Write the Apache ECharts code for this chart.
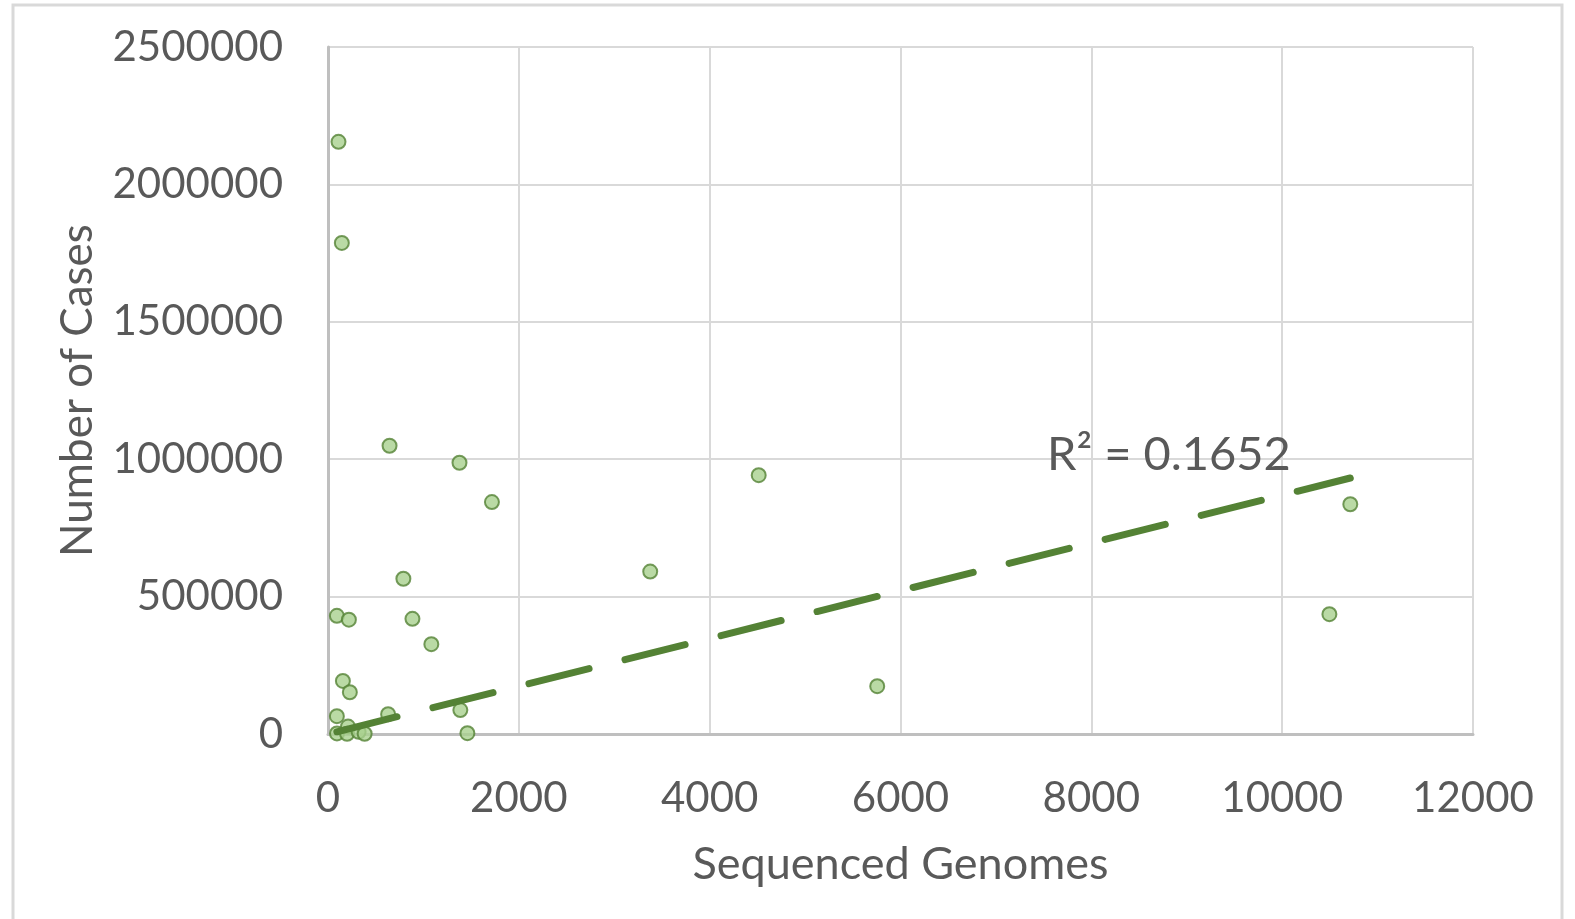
<!DOCTYPE html>
<html>
<head>
<meta charset="utf-8">
<title>Cases vs Sequenced Genomes</title>
<script src="https://cdn.jsdelivr.net/npm/echarts@6/dist/echarts.min.js"></script>
<style>
  html, body { margin: 0; padding: 0; background: #ffffff; }
  #chart { width: 1575px; height: 919px; }
</style>
</head>
<body>
<div id="chart"></div>
<script>
// Sequenced genomes per country (x) and number of confirmed cases (y)
const sequencedGenomes = [
  110, 145, 645, 1378, 1718, 4514, 3377, 790, 885, 1083,
  93, 219, 156, 229, 93, 630, 1387, 1461, 5756, 10714,
  10495, 94, 210, 200, 321, 384
];
const numberOfCases = [
  2155000, 1787000, 1049000, 987000, 844000, 942000, 591000, 565000, 419000, 327000,
  430000, 416000, 193000, 152000, 65000, 72000, 87000, 3000, 174000, 836000,
  436000, 2000, 27000, 1000, 8000, 1000
];
const xTicks = [0, 2000, 4000, 6000, 8000, 10000, 12000];
const yTicks = [0, 500000, 1000000, 1500000, 2000000, 2500000];
const rSquaredLabel = 'R\u00B2 = 0.1652';

// Linear trend through the origin (least squares, intercept fixed at 0)
let sxy = 0, sxx = 0;
for (let i = 0; i < sequencedGenomes.length; i++) {
  sxy += sequencedGenomes[i] * numberOfCases[i];
  sxx += sequencedGenomes[i] * sequencedGenomes[i];
}
const slope = sxy / sxx;
const xMin = Math.min(...sequencedGenomes);
const xMax = Math.max(...sequencedGenomes);
const trendData = [[xMin, slope * xMin], [xMax, slope * xMax]];

const points = sequencedGenomes.map((x, i) => [x, numberOfCases[i]]);

const textColor = '#595959';
const fontFamily = 'Lato, "Open Sans", sans-serif';
const plainNumber = v => String(v);

const chart = echarts.init(document.getElementById('chart'), null, { renderer: 'canvas' });
chart.setOption({
  backgroundColor: '#ffffff',
  animation: false,
  grid: { left: 328, top: 47, right: 102, bottom: 185, containLabel: false },
  xAxis: {
    type: 'value',
    min: xTicks[0],
    max: xTicks[xTicks.length - 1],
    interval: xTicks[1] - xTicks[0],
    name: 'Sequenced Genomes',
    nameLocation: 'middle',
    nameGap: 108,
    nameTextStyle: { color: textColor, fontSize: 45, fontFamily: fontFamily },
    axisLine: { show: true, lineStyle: { color: '#bfbfbf', width: 3 } },
    axisTick: { show: false },
    axisLabel: { color: textColor, fontSize: 42, fontFamily: fontFamily, margin: 43, formatter: plainNumber },
    splitLine: { show: true, lineStyle: { color: '#d9d9d9', width: 2 } }
  },
  yAxis: {
    type: 'value',
    min: yTicks[0],
    max: yTicks[yTicks.length - 1],
    interval: yTicks[1] - yTicks[0],
    name: 'Number of Cases',
    nameLocation: 'middle',
    nameGap: 228,
    nameRotate: 90,
    nameTextStyle: { color: textColor, fontSize: 44, fontFamily: fontFamily },
    axisLine: { show: true, lineStyle: { color: '#bfbfbf', width: 3 } },
    axisTick: { show: false },
    axisLabel: { color: textColor, fontSize: 42, fontFamily: fontFamily, margin: 45, formatter: plainNumber },
    splitLine: { show: true, lineStyle: { color: '#d9d9d9', width: 2 } }
  },
  series: [
    {
      name: 'Trend',
      type: 'line',
      data: trendData,
      symbol: 'none',
      silent: true,
      z: 3,
      lineStyle: { color: '#548235', width: 7, type: [62, 37], cap: 'round' }
    },
    {
      name: 'Countries',
      type: 'scatter',
      data: points,
      symbol: 'circle',
      symbolSize: 14,
      z: 2,
      itemStyle: { color: '#a9d18e', borderColor: '#548235', borderWidth: 2 }
    }
  ],
  graphic: [
    {
      type: 'rect',
      shape: { x: 13, y: 5, width: 1549, height: 1000 },
      style: { fill: 'none', stroke: '#d9d9d9', lineWidth: 3 },
      silent: true,
      z: 0
    },
    {
      type: 'text',
      left: 1047,
      top: 431,
      style: { text: rSquaredLabel, fill: textColor, fontSize: 47, fontFamily: fontFamily },
      z: 10
    }
  ]
});
</script>
</body>
</html>
